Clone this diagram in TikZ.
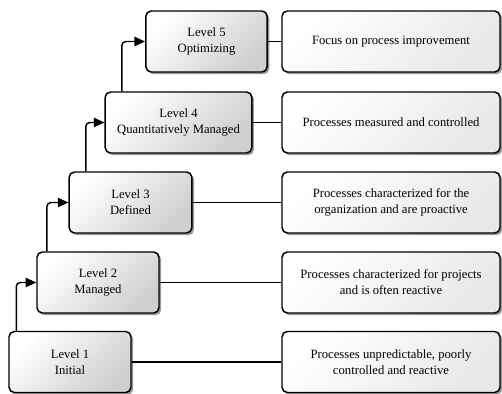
\documentclass[tikz,border=0pt]{standalone}
\usepackage{fontspec}
\setmainfont{Liberation Serif}
\usetikzlibrary{arrows.meta,shadows}
\begin{document}
\begin{tikzpicture}[
  x=0.75pt, y=-0.75pt,
  stage/.style={draw=black, line width=1.1pt, rounded corners=4pt,
    minimum height=45.75pt, inner sep=2pt, align=center,
    font=\fontsize{9.5}{12}\selectfont,
    top color=white, bottom color=gray!38, shading angle=45,
    drop shadow={shadow xshift=1.6pt, shadow yshift=-1.6pt, fill=gray!80, opacity=1}},
  desc/.style={stage, minimum width=163.5pt,
    top color=white, bottom color=gray!18, shading angle=45},
  link/.style={draw, line width=0.9pt},
  climb/.style={draw, line width=1.1pt, rounded corners=3pt,
    -{Triangle[length=8pt,width=7pt]}}
]
  \useasboundingbox (0,0) rectangle (502,393);
  % maturity levels
  \node[stage, minimum width=91pt]  (L5) at (206.5,41.5)  {Level 5\\Optimizing};
  \node[stage, minimum width=110pt] (L4) at (178.5,122.5) {Level 4\\Quantitatively Managed};
  \node[stage, minimum width=92pt]  (L3) at (130.5,202.5) {Level 3\\Defined};
  \node[stage, minimum width=91.5pt] (L2) at (98,282.5)   {Level 2\\Managed};
  \node[stage, minimum width=91.5pt] (L1) at (70,362)     {Level 1\\Initial};
  % descriptions
  \node[desc] (R5) at (391,41.5)  {Focus on process improvement};
  \node[desc] (R4) at (391,122.5) {Processes measured and controlled};
  \node[desc] (R3) at (391,202.5) {Processes characterized for the\\organization and are proactive};
  \node[desc] (R2) at (391,282.5) {Processes characterized for projects\\and is often reactive};
  \node[desc] (R1) at (391,362)   {Processes unpredictable, poorly\\controlled and reactive};
  % links
  \foreach \i in {1,...,5}
    \draw[link] (L\i) -- (R\i);
  % steps up
  \draw[climb] ([xshift=6pt]L1.north west) |- (L2.west);
  \draw[climb] ([xshift=8pt]L2.north west) |- (L3.west);
  \draw[climb] ([xshift=13pt]L3.north west) |- (L4.west);
  \draw[climb] ([xshift=13pt]L4.north west) |- (L5.west);
\end{tikzpicture}
\end{document}
